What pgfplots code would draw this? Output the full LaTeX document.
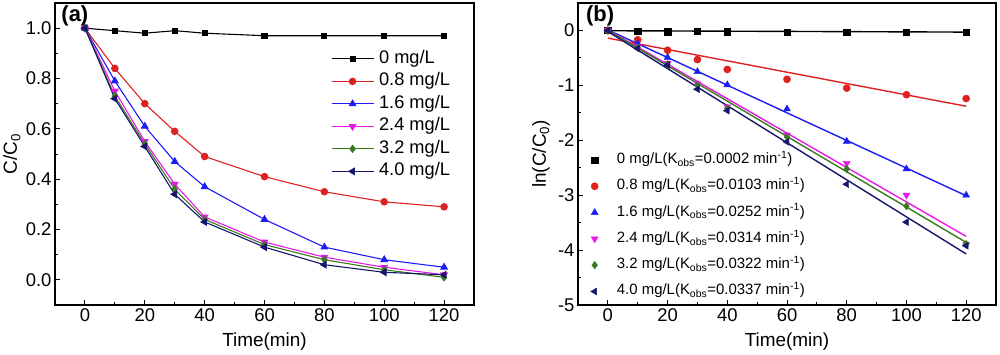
\documentclass[border=0pt]{standalone}
\usepackage{fontspec}
\setmainfont{Liberation Sans}
\usepackage{pgfplots}
\pgfplotsset{compat=1.18}
\definecolor{cred}{RGB}{222,34,34}
\definecolor{cblue}{RGB}{28,28,245}
\definecolor{cmag}{RGB}{232,24,232}
\definecolor{cgreen}{RGB}{58,122,30}
\definecolor{cnavy}{RGB}{22,22,108}
\pgfplotsset{
  myax/.style={
    scale only axis, height=302bp,
    xmin=-10, xmax=130,
    xtick={0,20,40,60,80,100,120},
    minor xtick={10,30,50,70,90,110},
    tick align=inside, xtick pos=left, ytick pos=left,
    major tick length=5bp, minor tick length=3bp,
    every tick/.style={black, line width=0.9bp},
    axis line style={line width=1.2bp},
    tick label style={font=\fontsize{18.5}{21}\selectfont},
    label style={font=\fontsize{19}{22}\selectfont},
    /pgf/number format/assume math mode=true,
    xlabel={Time(min)},
    xlabel style={at={(axis description cs:0.5,-0.1225)}, anchor=center},
  }
}
\begin{document}
\begin{tikzpicture}[x=1bp,y=1bp]
\path[use as bounding box] (0,0) rectangle (1000,354);
% ---------------- (a)
\begin{axis}[myax, at={(55bp,49bp)}, anchor=south west, width=419bp,
  ymin=-0.1, ymax=1.1,
  ytick={0,0.2,0.4,0.6,0.8,1.0},
  minor ytick={0.1,0.3,0.5,0.7,0.9},
  yticklabel style={/pgf/number format/.cd, fixed, fixed zerofill, precision=1},
  ylabel={C/C\textsubscript{0}},
  ylabel style={at={(axis description cs:-0.103,0.5)}, anchor=center},
  every axis plot/.append style={line width=1.1bp},
  legend style={draw=none, fill=none, inner sep=0pt, outer sep=0pt,
    at={(rel axis cs:0.6587,0.842)}, anchor=north west,
    font=\fontsize{18.3}{21}\selectfont,
    nodes={inner sep=0pt, text height=12.5bp, text depth=3.8bp},
    row sep=6.2bp, column sep=5bp},
  legend cell align=left,
  legend image code/.code={\draw[#1,mark repeat=2,mark phase=2] plot coordinates {(0bp,0bp) (21bp,0bp) (42bp,0bp)};},
]
\addplot[black, mark=square*, mark size=2.5bp] coordinates {(0,1.0) (10,0.99) (20,0.98) (30,0.99) (40,0.98) (60,0.97) (80,0.97) (100,0.97) (120,0.97)};
\addplot[cred, mark=*, mark size=3.2bp] coordinates {(0,1.0) (10,0.84) (20,0.70) (30,0.59) (40,0.49) (60,0.41) (80,0.35) (100,0.31) (120,0.29)};
\addplot[cblue, mark=triangle*, mark size=3.6bp] coordinates {(0,1.0) (10,0.79) (20,0.61) (30,0.47) (40,0.37) (60,0.24) (80,0.13) (100,0.08) (120,0.05)};
\addplot[cmag, mark=triangle*, mark size=3.6bp, mark options={rotate=180}] coordinates {(0,1.0) (10,0.75) (20,0.55) (30,0.38) (40,0.25) (60,0.15) (80,0.09) (100,0.05) (120,0.02)};
\addplot[cgreen, mark=diamond*, mark size=3.4bp] coordinates {(0,1.0) (10,0.73) (20,0.54) (30,0.36) (40,0.24) (60,0.14) (80,0.08) (100,0.04) (120,0.01)};
\addplot[cnavy, mark=triangle*, mark size=3.6bp, mark options={rotate=90}] coordinates {(0,1.0) (10,0.72) (20,0.53) (30,0.34) (40,0.23) (60,0.13) (80,0.06) (100,0.03) (120,0.02)};
\legend{0 mg/L, 0.8 mg/L, 1.6 mg/L, 2.4 mg/L, 3.2 mg/L, 4.0 mg/L}
\node[anchor=north west, font=\bfseries\fontsize{22}{24}\selectfont, inner sep=0pt] at (rel axis cs:0.015,0.993) {(a)};
\end{axis}
% ---------------- (b)
\begin{axis}[myax, at={(578bp,49bp)}, anchor=south west, width=418bp,
  ymin=-5, ymax=0.5,
  ytick={-5,-4,-3,-2,-1,0},
  minor ytick={-4.5,-3.5,-2.5,-1.5,-0.5},
  ylabel={ln(C/C\textsubscript{0})},
  ylabel style={at={(axis description cs:-0.0885,0.5)}, anchor=center},
  legend style={draw=none, fill=none, inner sep=0pt, outer sep=0pt,
    at={(rel axis cs:0.0203,0.505)}, anchor=north west,
    font=\fontsize{15}{18}\selectfont,
    nodes={inner sep=0pt, text height=11bp, text depth=4bp},
    row sep=11.3bp, column sep=14bp},
  legend cell align=left,
  legend image code/.code={\draw[#1] plot coordinates {(0bp,0bp)}; \path (-8bp,0bp) (8bp,0bp);},
]
\addplot[only marks, black, mark=square*, mark size=3.2bp] coordinates {(0,0) (10,-0.01) (20,-0.02) (30,-0.01) (40,-0.02) (60,-0.03) (80,-0.03) (100,-0.03) (120,-0.03)};
\addplot[only marks, cred, mark=*, mark size=3.6bp] coordinates {(0,0) (10,-0.17) (20,-0.36) (30,-0.53) (40,-0.71) (60,-0.89) (80,-1.05) (100,-1.17) (120,-1.24)};
\addplot[only marks, cblue, mark=triangle*, mark size=4bp] coordinates {(0,0) (10,-0.24) (20,-0.49) (30,-0.75) (40,-0.99) (60,-1.43) (80,-2.02) (100,-2.52) (120,-3.0)};
\addplot[only marks, cmag, mark=triangle*, mark size=4bp, mark options={rotate=180}] coordinates {(0,0) (10,-0.29) (20,-0.60) (30,-0.97) (40,-1.39) (60,-1.90) (80,-2.42) (100,-3.0) (120,-3.90)};
\addplot[only marks, cgreen, mark=diamond*, mark size=3.8bp] coordinates {(0,0) (10,-0.31) (20,-0.62) (30,-1.00) (40,-1.42) (60,-1.94) (80,-2.52) (100,-3.20) (120,-3.89)};
\addplot[only marks, cnavy, mark=triangle*, mark size=4bp, mark options={rotate=90}] coordinates {(0,0) (10,-0.33) (20,-0.63) (30,-1.07) (40,-1.46) (60,-2.03) (80,-2.80) (100,-3.49) (120,-3.92)};
\addplot[forget plot, black, line width=1.4bp] coordinates {(0,-0.005) (120,-0.03)};
\addplot[forget plot, cred, line width=1.4bp] coordinates {(0,-0.14) (120,-1.38)};
\addplot[forget plot, cblue, line width=1.4bp] coordinates {(0,0.01) (120,-3.01)};
\addplot[forget plot, cmag, line width=1.4bp] coordinates {(0,0.01) (120,-3.75)};
\addplot[forget plot, cgreen, line width=1.4bp] coordinates {(0,0.0) (120,-3.86)};
\addplot[forget plot, cnavy, line width=1.4bp] coordinates {(0,-0.02) (120,-4.07)};
\legend{0 mg/L(K\textsubscript{obs}=0.0002 min\textsuperscript{-1}),
        0.8 mg/L(K\textsubscript{obs}=0.0103 min\textsuperscript{-1}),
        1.6 mg/L(K\textsubscript{obs}=0.0252 min\textsuperscript{-1}),
        2.4 mg/L(K\textsubscript{obs}=0.0314 min\textsuperscript{-1}),
        3.2 mg/L(K\textsubscript{obs}=0.0322 min\textsuperscript{-1}),
        4.0 mg/L(K\textsubscript{obs}=0.0337 min\textsuperscript{-1})}
\node[anchor=north west, font=\bfseries\fontsize{22}{24}\selectfont, inner sep=0pt] at (rel axis cs:0.019,0.993) {(b)};
\end{axis}
\end{tikzpicture}
\end{document}
